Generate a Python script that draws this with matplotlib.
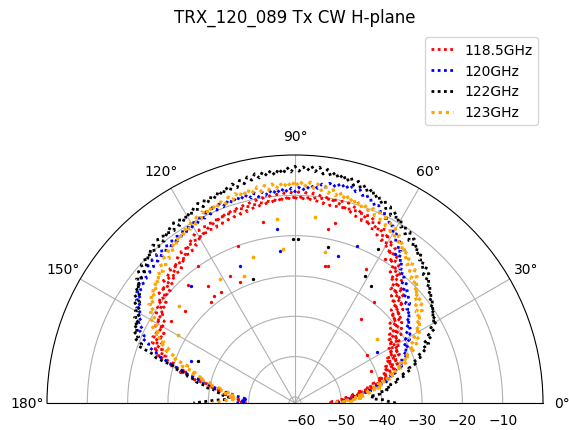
import numpy as np
import matplotlib
matplotlib.use("Agg")
import matplotlib.pyplot as plt

# measured angle grid (deg), one sample per degree
angle_deg = np.arange(0, 181)

# gain in dB, 118.5 GHz
db_1185 = [
    -53.0, -50.2, -52.4, -48.7, -50.5, -47.1, -48.9, -45.0, -47.2, -43.6,
    -45.8, -41.9, -43.5, -39.8, -41.6, -38.2, -40.4, -36.5, -38.9, -35.4,
    -38.1, -34.2, -37.3, -33.6, -36.8, -32.9, -36.0, -32.4, -35.3, -31.8,
    -34.9, -31.0, -34.2, -30.1, -33.4, -29.2, -32.6, -28.3, -31.5, -27.4,
    -30.8, -26.0, -29.6, -24.7, -28.4, -23.5, -27.1, -22.3, -25.8, -21.2,
    -24.6, -19.9, -23.0, -18.6, -21.4, -17.2, -19.6, -15.8, -18.0, -14.6,
    -16.9, -13.5, -15.9, -12.7, -15.2, -12.1, -14.6, -11.6, -14.0, -11.2,
    -13.4, -10.8, -12.9, -10.4, -12.6, -10.1, -12.3, -9.8, -12.0, -9.6,
    -11.8, -9.4, -11.6, -9.3, -11.5, -9.2, -11.4, -9.2, -11.3, -9.1,
    -11.3, -9.2, -11.4, -9.3, -11.6, -9.5, -11.8, -9.7, -12.0, -9.9,
    -12.2, -10.1, -12.4, -10.3, -12.6, -10.5, -12.8, -10.7, -13.0, -10.9,
    -13.2, -11.1, -13.5, -11.4, -13.8, -11.7, -14.1, -12.0, -14.5, -12.4,
    -14.9, -12.8, -15.4, -13.3, -16.0, -13.9, -16.6, -14.5, -17.2, -15.1,
    -17.8, -15.6, -18.3, -16.0, -18.8, -16.4, -19.3, -16.9, -19.9, -17.5,
    -20.4, -18.1, -21.0, -18.8, -21.7, -19.6, -22.5, -20.4, -23.3, -21.2,
    -24.2, -21.9, -24.8, -22.3, -25.2, -22.6, -25.5, -23.0, -26.1, -23.8,
    -27.5, -25.4, -30.2, -28.6, -33.7, -32.0, -37.1, -35.9, -40.2, -39.5,
    -42.8, -42.3, -44.6, -43.9, -46.1, -45.4, -47.5, -46.8, -48.6, -48.1, -49.5,
]

# 120 GHz
db_120 = [
    -51.0, -49.3, -50.2, -47.6, -48.5, -46.0, -46.8, -44.1, -44.9, -42.5,
    -42.8, -40.3, -40.9, -38.2, -38.6, -36.4, -36.9, -34.8, -35.3, -33.5,
    -33.9, -32.4, -33.0, -31.5, -32.1, -30.6, -31.4, -29.8, -30.7, -29.0,
    -29.9, -28.2, -29.1, -27.4, -28.3, -26.6, -27.5, -25.6, -26.4, -24.7,
    -25.3, -23.8, -24.6, -23.0, -23.9, -22.1, -23.0, -21.0, -21.9, -20.2,
    -20.6, -18.9, -19.3, -17.2, -17.8, -15.6, -16.1, -13.8, -14.5, -12.6,
    -13.0, -11.3, -11.7, -10.2, -10.6, -9.1, -9.6, -8.3, -8.8, -7.6,
    -8.0, -6.8, -7.4, -6.2, -7.0, -5.9, -6.8, -5.8, -6.9, -6.0,
    -7.1, -6.3, -7.5, -6.8, -8.0, -7.2, -8.4, -7.7, -8.8, -8.0,
    -9.1, -8.2, -9.2, -8.1, -9.3, -8.3, -9.4, -8.4, -9.5, -8.5,
    -9.6, -8.5, -9.5, -8.4, -9.4, -8.3, -9.5, -8.4, -9.6, -8.6,
    -9.7, -8.7, -9.9, -8.9, -10.2, -9.2, -10.5, -9.5, -10.9, -9.8,
    -11.2, -10.1, -11.5, -10.3, -11.7, -10.5, -11.9, -10.7, -12.1, -10.9,
    -12.2, -11.0, -12.4, -11.1, -12.6, -11.3, -12.8, -11.6, -13.1, -11.9,
    -13.4, -12.3, -13.9, -12.8, -14.5, -13.6, -15.4, -14.6, -16.5, -15.7,
    -17.6, -16.8, -18.5, -17.8, -19.4, -18.9, -20.6, -20.3, -22.4, -22.6,
    -24.8, -25.6, -28.2, -29.9, -32.4, -34.0, -36.3, -37.5, -39.6, -40.8,
    -42.7, -43.9, -45.6, -46.5, -48.0, -49.1, -48.5, -49.6, -47.9, -48.8, -47.0,
]

# 122 GHz
db_122 = [
    -36.5, -38.4, -39.2, -42.0, -41.8, -42.9, -40.3, -40.6, -38.4, -39.0,
    -37.0, -37.4, -35.1, -35.5, -33.2, -33.8, -31.6, -32.0, -30.1, -30.6,
    -28.4, -29.0, -26.9, -27.3, -25.2, -26.3, -23.8, -24.4, -22.3, -23.0,
    -20.8, -22.0, -20.3, -21.4, -19.6, -20.7, -18.9, -19.9, -18.2, -19.1,
    -17.3, -18.2, -16.4, -17.3, -15.3, -16.5, -14.4, -15.6, -13.8, -14.5,
    -12.8, -13.9, -12.0, -13.1, -11.2, -12.3, -10.4, -11.5, -9.7, -10.6,
    -8.8, -9.9, -8.0, -9.3, -7.4, -8.3, -6.5, -7.6, -5.9, -6.8,
    -5.1, -6.3, -4.8, -5.9, -4.3, -5.6, -3.8, -5.1, -3.6, -4.8,
    -3.4, -4.6, -3.0, -4.3, -2.7, -3.9, -2.6, -3.8, -2.9, -4.0,
    -2.8, -4.2, -3.0, -4.6, -3.3, -4.8, -3.5, -4.7, -3.6, -5.0,
    -3.8, -5.2, -4.2, -5.7, -4.6, -6.2, -5.0, -6.5, -5.3, -6.9,
    -5.6, -7.1, -6.0, -7.4, -6.2, -7.8, -6.4, -8.1, -6.9, -8.5,
    -7.3, -8.9, -7.5, -9.0, -7.6, -9.3, -7.9, -9.6, -8.2, -9.9,
    -8.5, -10.1, -8.8, -10.4, -9.1, -10.8, -9.5, -11.3, -10.2, -11.9,
    -10.8, -12.7, -11.6, -13.6, -12.5, -14.5, -13.5, -15.6, -14.7, -16.7,
    -15.8, -17.5, -16.4, -18.2, -16.9, -18.7, -17.6, -19.4, -18.5, -20.8,
    -20.3, -24.2, -25.3, -29.8, -30.4, -33.8, -34.0, -36.2, -36.5, -38.7,
    -39.0, -41.4, -41.5, -43.6, -43.5, -45.1, -44.6, -44.5, -41.6, -39.4, -36.3,
]

# 123 GHz
db_123 = [
    -49.0, -51.2, -47.3, -48.6, -45.2, -46.8, -44.1, -45.9, -42.3, -43.4,
    -40.2, -41.9, -39.0, -40.3, -37.4, -37.9, -35.6, -36.8, -34.0, -35.1,
    -32.0, -33.6, -30.9, -32.1, -29.4, -30.3, -27.9, -29.2, -26.6, -27.8,
    -25.3, -26.9, -24.6, -25.8, -23.7, -24.9, -22.5, -23.9, -21.6, -23.0,
    -20.8, -22.4, -20.1, -21.3, -19.0, -20.2, -17.9, -19.3, -17.0, -18.2,
    -16.0, -17.4, -15.3, -16.5, -14.2, -15.6, -13.5, -14.7, -12.6, -13.8,
    -11.6, -12.9, -11.0, -12.2, -10.3, -11.5, -9.8, -11.1, -9.5, -10.8,
    -9.3, -10.6, -9.0, -10.2, -8.6, -9.8, -8.2, -9.5, -7.9, -9.1,
    -7.5, -8.8, -7.2, -8.4, -6.9, -8.1, -6.6, -7.9, -6.5, -7.8,
    -6.4, -7.9, -6.6, -8.0, -6.8, -8.2, -6.9, -8.3, -7.0, -8.4,
    -7.1, -8.5, -7.2, -8.6, -7.3, -8.6, -7.5, -8.9, -7.8, -9.2,
    -8.0, -9.4, -8.2, -9.7, -8.4, -9.9, -8.8, -10.3, -9.3, -10.8,
    -9.6, -11.2, -10.0, -11.7, -10.6, -12.2, -11.0, -12.8, -11.7, -13.4,
    -12.3, -14.0, -12.9, -14.6, -13.5, -15.3, -14.3, -16.0, -15.0, -16.8,
    -15.6, -17.5, -16.2, -18.1, -16.9, -18.9, -17.8, -20.0, -19.2, -21.3,
    -20.4, -22.6, -21.5, -24.0, -22.8, -25.6, -24.7, -27.9, -27.0, -30.2,
    -29.8, -33.4, -32.1, -35.6, -34.5, -38.2, -37.0, -40.3, -39.8, -42.6,
    -42.1, -44.8, -43.6, -46.0, -44.9, -46.7, -45.3, -46.1, -44.0, -43.2, -41.0,
]

# stray samples inside the main lobe (angle deg, dB)
odd_1185_deg = [125.4, 126.7, 127.2, 117.0, 114.3, 123.8, 129.8, 146.4, 79.3, 77.6,
                77.7, 76.5, 51.9, 51.8, 33.3, 22.6, 16.0, 110.0, 132.0, 140.0, 62.0, 58.0, 100.0]
odd_1185_db = [-19.9, -25.3, -28.1, -26.2, -28.6, -28.3, -28.8, -24.6, -17.7, -15.7,
               -26.8, -26.5, -29.6, -34.9, -40.0, -41.0, -39.2, -20.0, -22.0, -26.0, -24.0, -19.5, -16.0]
odd_120_deg = [95.9, 95.6, 111.7, 131.7, 158.2, 73.8, 68.3, 32.0, 56.0]
odd_120_db = [-18.2, -23.7, -24.9, -22.6, -33.7, -23.6, -19.7, -37.4, -17.0]
odd_122_deg = [108.6, 90.7, 156.8, 89.0, 61.3, 56.9, 78.0, 61.8]
odd_122_db = [-29.0, -20.9, -35.3, -20.9, -25.6, -26.8, -22.0, -18.2]
odd_123_deg = [94.4, 106.0, 112.0, 121.0, 95.6, 78.8, 83.9, 38.0, 150.0, 140.0]
odd_123_db = [-23.2, -23.9, -27.5, -25.6, -15.7, -23.4, -15.0, -35.6, -28.0, -24.0]

labels = ["118.5GHz", "120GHz", "122GHz", "123GHz"]
colors = ["red", "blue", "black", "orange"]
r_ticks = [-60, -50, -40, -30, -20, -10]

series = [
    (db_1185, odd_1185_deg, odd_1185_db, 2.0),
    (db_120, odd_120_deg, odd_120_db, 2.0),
    (db_122, odd_122_deg, odd_122_db, 2.0),
    (db_123, odd_123_deg, odd_123_db, 2.3),
]

W, H = 569, 431
fig = plt.figure(figsize=(W / 100, H / 100), dpi=100)
# square box so the half disc spans ~496 px wide; it sits centred vertically in the box
ax = fig.add_axes([47 / W, (H - 528) / H, 496 / W, 496 / H], projection="polar")

for (db, odd_deg, odd_db, lw), lab, col in zip(series, labels, colors):
    ax.plot(np.deg2rad(angle_deg), db, linestyle=(0, (1, 1.25)), linewidth=lw,
            color=col, label=lab)
    ax.plot(np.deg2rad(odd_deg), odd_db, linestyle="none", marker="o",
            markersize=lw + 0.4, markeredgewidth=0, color=col)

ax.set_thetamin(0)
ax.set_thetamax(180)
ax.set_thetagrids(range(0, 181, 30))
ax.set_rlim(-61.5, 0)
ax.set_rticks(r_ticks)

fig.text(295 / W, 1 - 18 / H, "TRX_120_089 Tx CW H-plane",
         ha="center", va="center", fontsize=12)
ax.legend(loc="upper right", bbox_to_anchor=(538 / W, 1 - 38 / H),
          bbox_transform=fig.transFigure, borderaxespad=0, handlelength=1.6)

fig.savefig("out.png", dpi=100)
